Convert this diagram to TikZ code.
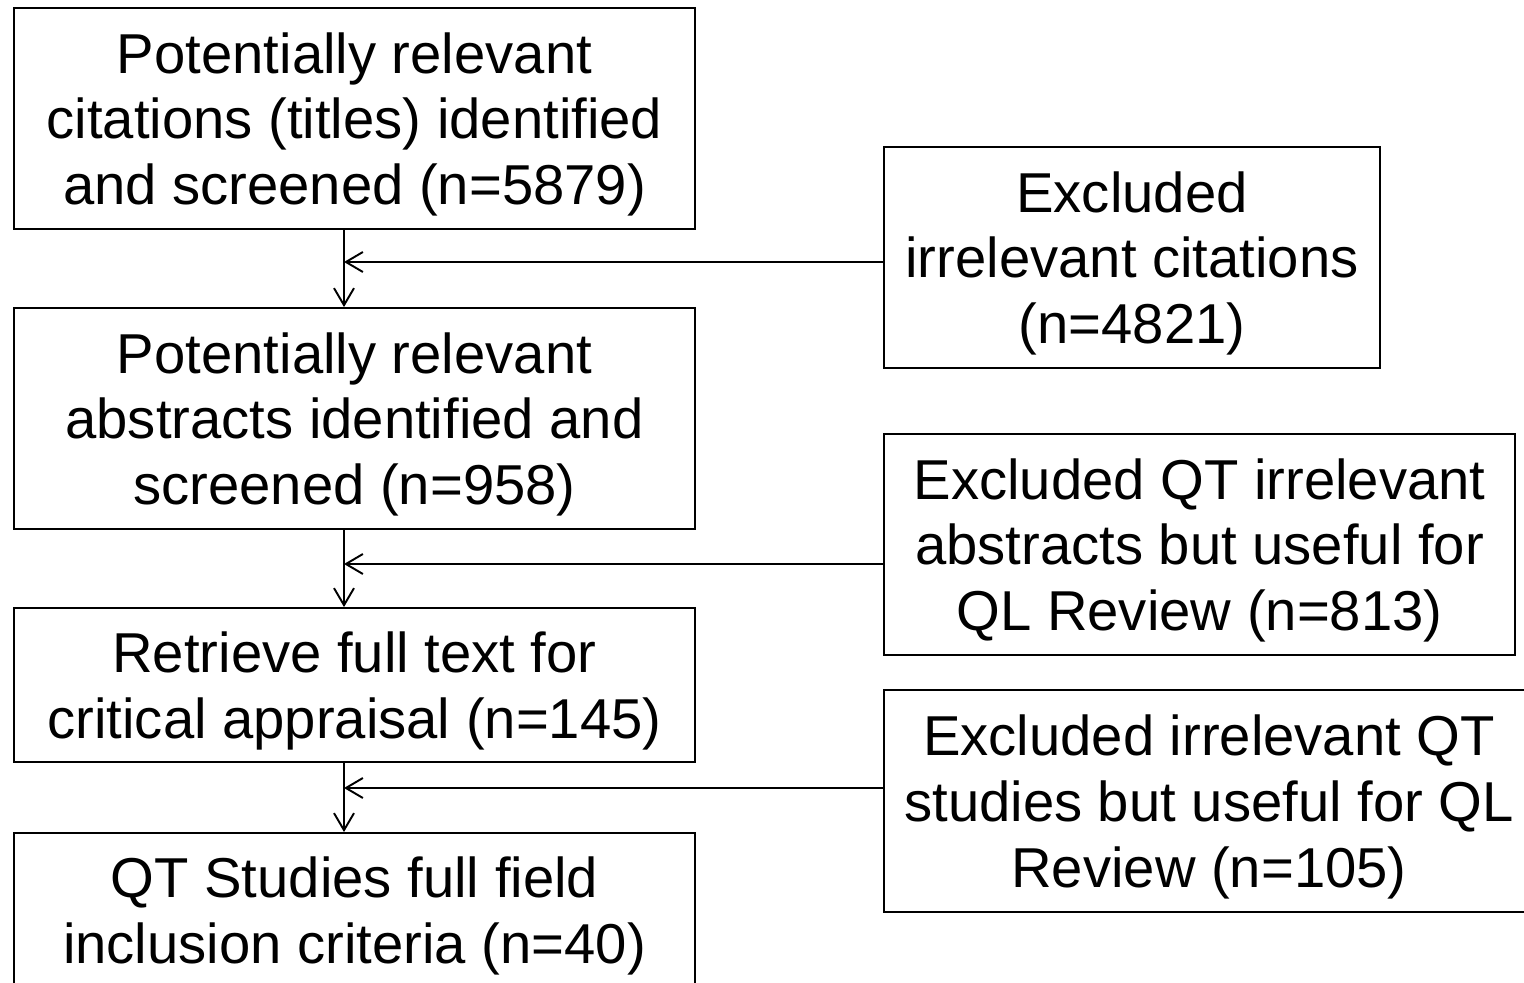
\documentclass[tikz,border=0pt]{standalone}
\usepackage{fontspec}
\setmainfont{Liberation Sans}
\usetikzlibrary{arrows.meta}

\begin{document}
\begin{tikzpicture}[x=0.02cm, y=-0.02cm, line width=1.1pt,
    box/.style={draw, align=center, inner sep=0pt, text depth=0pt,
      font=\fontsize{32}{37.4}\selectfont},
    arr/.style={-{Straight Barb[length=3.4mm, width=4mm]}}]
    \useasboundingbox (0,0) rectangle (1524,983);
    \clip (0,0) rectangle (1524,983);
    % main column
    \node[box, minimum width=13.62cm, minimum height=4.42cm] (titles) at (354.5,118.5)
        {Potentially relevant\\citations (titles) identified\\and screened (n=5879)};
    \node[box, minimum width=13.62cm, minimum height=4.42cm] (abstracts) at (354.5,418.5)
        {Potentially relevant\\abstracts identified and\\screened (n=958)};
    \node[box, minimum width=13.62cm, minimum height=3.08cm] (fulltext) at (354.5,685)
        {Retrieve full text for\\critical appraisal (n=145)};
    \node[box, minimum width=13.62cm, minimum height=3.08cm] (included) at (354.5,910)
        {QT Studies full field\\inclusion criteria (n=40)};
    % exclusions
    \node[box, minimum width=9.92cm, minimum height=4.42cm] (excl1) at (1132,257.5)
        {Excluded\\irrelevant citations\\(n=4821)};
    \node[box, minimum width=12.62cm, minimum height=4.42cm] (excl2) at (1199.5,544.5)
        {Excluded QT irrelevant\\abstracts but useful for\\QL Review (n=813)};
    \node[box, minimum width=13cm, minimum height=4.44cm] (excl3) at (1209,801)
        {Excluded irrelevant QT\\studies but useful for QL\\Review (n=105)};
    % joints on the spine
    \coordinate (spine) at (344,0);
    \coordinate (j1) at (344,262);
    \coordinate (j2) at (344,564);
    \coordinate (j3) at (344,788);
    \draw[arr] (titles.south -| spine) -- (abstracts.north -| spine);
    \draw[arr] (abstracts.south -| spine) -- (fulltext.north -| spine);
    \draw[arr] (fulltext.south -| spine) -- (included.north -| spine);
    \draw[arr] (excl1.west |- j1) -- (j1);
    \draw[arr] (excl2.west |- j2) -- (j2);
    \draw[arr] (excl3.west |- j3) -- (j3);
\end{tikzpicture}
\end{document}
